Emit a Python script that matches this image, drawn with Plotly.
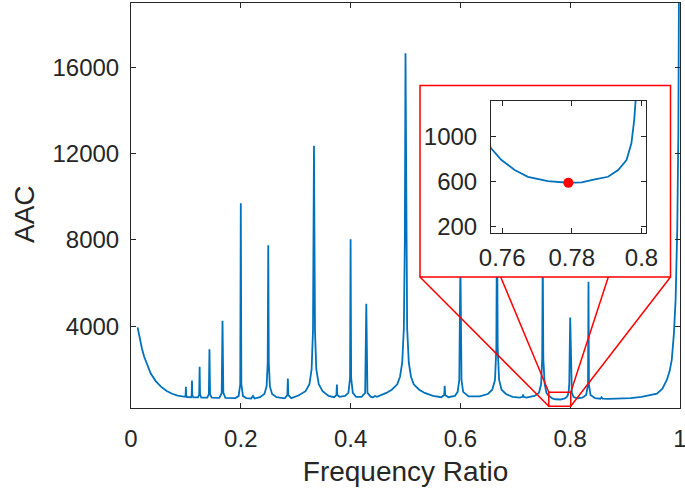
import plotly.graph_objects as go

# ---------------- data ----------------
freq_ratio = [
    0.012, 0.016, 0.020, 0.024, 0.030, 0.036, 0.045, 0.055, 0.065, 0.075, 0.085, 0.095,
    0.0985, 0.0995, 0.1000, 0.1005, 0.102,
    0.1095, 0.1105, 0.1111, 0.1117, 0.1135,
    0.122, 0.1242, 0.1250, 0.1258, 0.128,
    0.139, 0.1418, 0.1429, 0.1440, 0.147,
    0.161, 0.1652, 0.1667, 0.1682, 0.172,
    0.190, 0.196, 0.199, 0.200, 0.201, 0.204, 0.210,
    0.219, 0.2222, 0.225,
    0.235, 0.243, 0.247, 0.249, 0.250, 0.251, 0.253, 0.257, 0.265,
    0.280, 0.2848, 0.2857, 0.2866, 0.292,
    0.305, 0.318, 0.325, 0.329, 0.3315, 0.3333, 0.3351, 0.3375, 0.342, 0.349, 0.360,
    0.370, 0.3742, 0.3750, 0.3758, 0.380,
    0.390, 0.396, 0.399, 0.400, 0.401, 0.404, 0.410,
    0.420, 0.4265, 0.4286, 0.4307, 0.437,
    0.441, 0.4444, 0.448,
    0.455, 0.465, 0.475, 0.485, 0.490, 0.494, 0.497, 0.4988, 0.500, 0.5012, 0.503,
    0.506, 0.510, 0.515, 0.525, 0.535, 0.550, 0.565,
    0.5705, 0.5714, 0.5723, 0.578,
    0.590, 0.595, 0.598, 0.600, 0.602, 0.605, 0.615,
    0.635, 0.650, 0.658, 0.663, 0.6655, 0.6667, 0.6679, 0.6705, 0.675, 0.683, 0.695,
    0.708, 0.7135, 0.7143, 0.7151, 0.720,
    0.735, 0.743, 0.747, 0.749, 0.750, 0.751, 0.7535,
    0.7567, 0.7598, 0.7636, 0.7674, 0.7731, 0.7789, 0.7828, 0.7866, 0.7904, 0.7933,
    0.7957, 0.7971, 0.7979, 0.7983, 0.8000, 0.8017, 0.803, 0.806, 0.812,
    0.822, 0.829, 0.8325, 0.8333, 0.8341, 0.837, 0.845,
    0.855, 0.857, 0.859, 0.870, 0.890, 0.910, 0.930, 0.945, 0.958, 0.968,
    0.976, 0.981, 0.985, 0.989, 0.992, 0.995, 0.997, 0.999,
]
aac = [
    3940, 3400, 2950, 2580, 2150, 1800, 1450, 1180, 990, 860, 770, 725,
    720, 800, 1180, 800, 710,
    700, 790, 1480, 790, 690,
    690, 820, 2115, 820, 680,
    680, 850, 2930, 850, 680,
    670, 900, 4250, 900, 670,
    660, 750, 1300, 9700, 1300, 750, 660,
    640, 760, 640,
    700, 850, 1200, 2300, 7750, 2300, 1200, 850, 700,
    650, 800, 1570, 800, 660,
    780, 980, 1300, 2000, 3800, 12375, 3800, 2000, 1300, 980, 760,
    700, 800, 1290, 800, 720,
    760, 900, 1600, 8030, 1600, 900, 720,
    720, 900, 5040, 900, 720,
    700, 760, 720,
    780, 900, 1050, 1300, 1650, 2300, 3900, 8000, 16670, 8000, 3900,
    2300, 1650, 1300, 1050, 900, 760, 700,
    800, 1230, 800, 700,
    760, 950, 1500, 7000, 1500, 950, 740,
    740, 850, 1050, 1500, 3000, 10000, 3000, 1500, 1050, 850, 720,
    680, 720, 830, 720, 680,
    760, 900, 1300, 2500, 7500, 2500, 1320,
    902, 793, 704, 644, 606, 591, 594, 621, 644, 704,
    793, 941, 1148, 1320, 4400, 1320, 900, 720, 650,
    680, 800, 1300, 6060, 1300, 800, 660,
    630, 700, 630, 620, 630, 660, 715, 780, 870, 1100,
    1500, 1900, 2430, 3690, 5230, 8500, 13000, 25000,
]

min_ratio = [0.779]
min_aac = [590]

x_ticks = [0, 0.2, 0.4, 0.6, 0.8, 1]
x_ticklabels = ["0", "0.2", "0.4", "0.6", "0.8", "1"]
y_ticks = [4000, 8000, 12000, 16000]
y_ticklabels = ["4000", "8000", "12000", "16000"]
inset_x_ticks = [0.76, 0.78, 0.8]
inset_x_ticklabels = ["0.76", "0.78", "0.8"]
inset_y_ticks = [200, 600, 1000]
inset_y_ticklabels = ["200", "600", "1000"]

# ---------------- layout constants ----------------
W, H = 685, 493
ML, MR, MT, MB = 131, 5, 3, 85
PW, PH = W - ML - MR, H - MT - MB
X_RANGE = [0, 1]
Y_RANGE = [200, 19000]
INSET_X_RANGE = [0.7568, 0.8012]
INSET_Y_RANGE = [147, 1320]
ZOOM_X = [0.761, 0.801]
ZOOM_Y = [280, 930]

def px_x(px):
    return (px - ML) / PW

def px_y(py):
    return (H - MB - py) / PH

def dx_paper(x):
    return (x - X_RANGE[0]) / (X_RANGE[1] - X_RANGE[0])

def dy_paper(y):
    return (y - Y_RANGE[0]) / (Y_RANGE[1] - Y_RANGE[0])

def paper_to_dy(p):
    return Y_RANGE[0] + p * (Y_RANGE[1] - Y_RANGE[0])

BLUE = "#0072BD"
RED = "#FF0000"
AX = "#262626"
FONT = "Liberation Sans, Arial, sans-serif"

box_x0, box_x1 = px_x(420), px_x(670.5)
box_y0, box_y1 = px_y(277), px_y(85.5)

fig = go.Figure()
fig.add_trace(go.Scatter(x=freq_ratio, y=aac, mode="lines",
                         line=dict(color=BLUE, width=1.8), hoverinfo="skip",
                         showlegend=False, xaxis="x", yaxis="y"))
# white panel behind the inset (hides main curve under the magnified box)
fig.add_trace(go.Scatter(x=[box_x0, box_x1, box_x1, box_x0, box_x0],
                         y=[paper_to_dy(box_y0), paper_to_dy(box_y0), paper_to_dy(box_y1),
                            paper_to_dy(box_y1), paper_to_dy(box_y0)],
                         mode="lines", fill="toself", fillcolor="white",
                         line=dict(width=0, color="white"), hoverinfo="skip",
                         showlegend=False, xaxis="x", yaxis="y"))
# inset
fig.add_trace(go.Scatter(x=freq_ratio, y=aac, mode="lines",
                         line=dict(color=BLUE, width=1.8), hoverinfo="skip",
                         showlegend=False, xaxis="x2", yaxis="y2"))
fig.add_trace(go.Scatter(x=min_ratio, y=min_aac, mode="markers",
                         marker=dict(color=RED, size=10), hoverinfo="skip",
                         showlegend=False, xaxis="x2", yaxis="y2"))

shapes = []
shapes.append(dict(type="rect", xref="paper", yref="paper", x0=box_x0, x1=box_x1,
                   y0=box_y0, y1=box_y1, line=dict(color=RED, width=1.5), layer="above"))
shapes.append(dict(type="rect", xref="x", yref="y", x0=ZOOM_X[0], x1=ZOOM_X[1],
                   y0=ZOOM_Y[0], y1=ZOOM_Y[1], line=dict(color=RED, width=1.5), layer="above"))
zx0, zx1 = dx_paper(ZOOM_X[0]), dx_paper(ZOOM_X[1])
zy0, zy1 = dy_paper(ZOOM_Y[0]), dy_paper(ZOOM_Y[1])
anchors = [(box_x0, zx0, zy0), (px_x(500.7), zx0, zy1), (px_x(608.3), zx1, zy1), (box_x1, zx1, zy0)]
for ax_, bx_, by_ in anchors:
    shapes.append(dict(type="line", xref="paper", yref="paper", x0=ax_, y0=box_y0,
                       x1=bx_, y1=by_, line=dict(color=RED, width=1.5), layer="above"))

axis_common = dict(showline=True, linecolor=AX, linewidth=1, mirror="ticks",
                   ticks="inside", ticklen=5, tickcolor=AX, showgrid=False, zeroline=False,
                   automargin=False, ticklabeloverflow="allow",
                   tickfont=dict(family=FONT, size=24, color=AX))

annotations = [
    dict(text="AAC", xref="paper", yref="paper", x=px_x(24), y=px_y(214),
         xanchor="center", yanchor="middle", textangle=-90, showarrow=False,
         font=dict(family=FONT, size=28, color=AX)),
]

fig.update_layout(
    width=W, height=H, margin=dict(l=ML, r=MR, t=MT, b=MB, autoexpand=False),
    paper_bgcolor="white", plot_bgcolor="white",
    shapes=shapes, annotations=annotations,
    xaxis=dict(domain=[0, 1], range=X_RANGE, tickvals=x_ticks, ticktext=x_ticklabels,
               ticklabelstandoff=9,
               title=dict(text="Frequency Ratio", font=dict(family=FONT, size=28, color=AX), standoff=10),
               anchor="y", **axis_common),
    yaxis=dict(domain=[0, 1], range=Y_RANGE, tickvals=y_ticks, ticktext=y_ticklabels,
               ticklabelstandoff=6, anchor="x", **axis_common),
    xaxis2=dict(domain=[px_x(491), px_x(645.7)], range=INSET_X_RANGE, tickvals=inset_x_ticks,
                ticktext=inset_x_ticklabels, anchor="y2", ticklabelstandoff=3, **axis_common),
    yaxis2=dict(domain=[px_y(232.7), px_y(100.7)], range=INSET_Y_RANGE, tickvals=inset_y_ticks,
                ticktext=inset_y_ticklabels, anchor="x2", ticklabelstandoff=8, **axis_common),
)

fig.write_html("out.html", config={"displayModeBar": False},
               post_script="document.body.style.margin='0px';")
